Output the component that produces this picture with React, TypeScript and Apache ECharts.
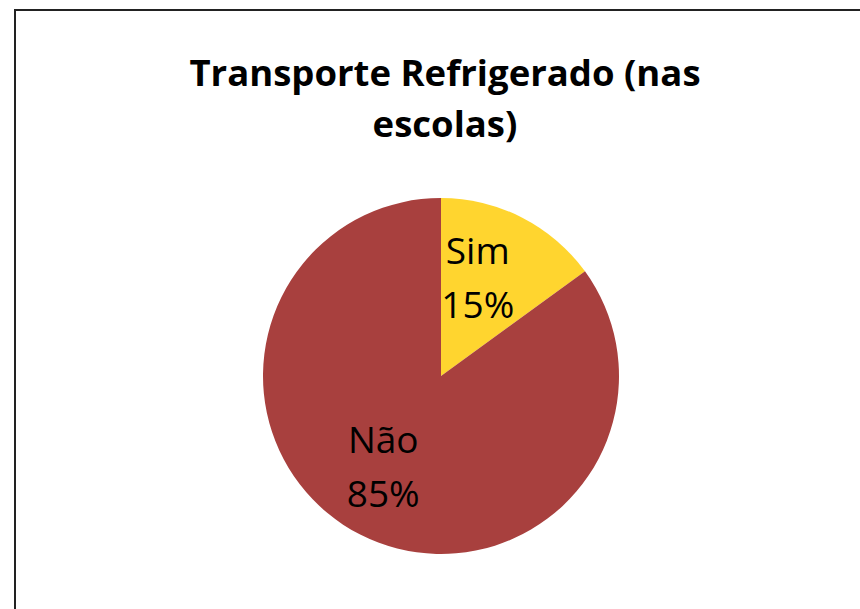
import React, { useEffect, useRef } from "react";
import * as echarts from "echarts";

const categories = ["Sim", "Não"];
const values = [15, 85];
const colors = ["#FFD52F", "#A8403E"];
const titleText = "Transporte Refrigerado (nas\nescolas)";
const labelFormats = ["{b}\n{d}%\n{s| }", "{t| }\n{b}\n{d}%"];
const labelPadding = [
  [0, 10, 0, 0],
  [0, 32, 0, 0],
];

export default function App() {
  const ref = useRef<HTMLDivElement>(null);
  useEffect(() => {
    if (!ref.current) return;
    const chart = echarts.init(ref.current, null, { renderer: "svg" });
    chart.setOption({
      animation: false,
      backgroundColor: "#ffffff",
      title: {
        text: titleText,
        left: 440,
        top: 41,
        textAlign: "center",
        textStyle: {
          fontFamily: "Open Sans",
          fontWeight: "bold",
          fontSize: 36.5,
          lineHeight: 51,
          color: "#000000",
        },
      },
      graphic: [
        {
          type: "rect",
          shape: { x: 15, y: 10, width: 900, height: 700 },
          style: { fill: "none", stroke: "#222222", lineWidth: 2 },
          silent: true,
        },
      ],
      series: [
        {
          type: "pie",
          center: [441, 376],
          radius: 178,
          startAngle: 90,
          clockwise: true,
          label: {
            show: true,
            position: "inside",
            fontFamily: "Open Sans",
            fontSize: 37,
            lineHeight: 54,
            color: "#000000",
            rich: {
              s: { fontSize: 10, lineHeight: 36 },
              t: { fontSize: 10, lineHeight: 16 },
            },
          },
          labelLine: { show: false },
          itemStyle: { borderWidth: 0 },
          emphasis: { disabled: true },
          data: categories.map((c, i) => ({
            name: c,
            value: values[i],
            itemStyle: { color: colors[i] },
            label: { padding: labelPadding[i], formatter: labelFormats[i] },
          })),
        },
      ],
    });
    return () => chart.dispose();
  }, []);
  return (
    <div
      ref={ref}
      style={{ position: "fixed", left: 0, top: 0, width: 860, height: 609 }}
    />
  );
}
